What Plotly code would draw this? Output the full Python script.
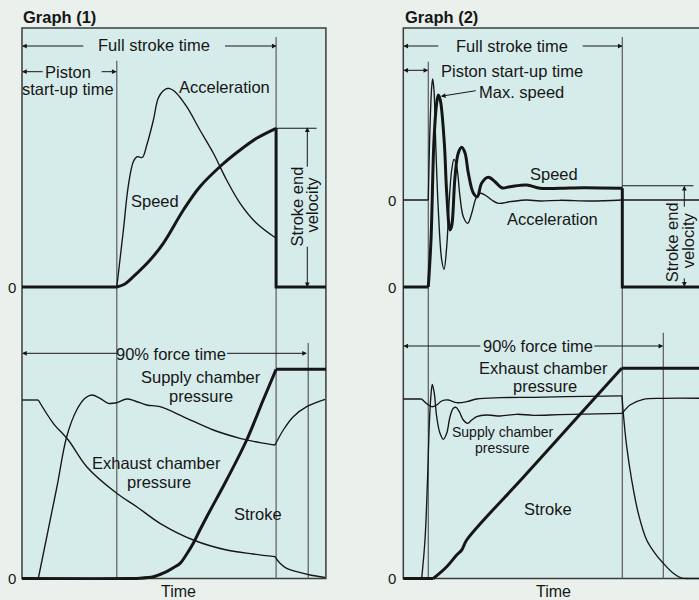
import plotly.graph_objects as go

W, H = 699, 600

# ======================= DATA =======================
# Time in arbitrary units, signals in arbitrary (normalised) units.

# ---------- Graph (1) ----------
g1_startup_end = 31.6
g1_stroke_end = 84.7
g1_force90_end = 95.4
g1_time_end = 101.3

g1_speed_t = [0, 31.6, 34.3, 37.1, 42.7, 47.1, 53.8, 59.3, 66.6, 72.7, 78.2, 84.7, 84.7, 101.3]
g1_speed_v = [0, 0, 1.5, 5.15, 13.5, 21.85, 38.5, 50.15, 61.0, 68.5, 74.35, 79.35, 0, 0]
g1_speed_corners = [1, 11, 12]

g1_accel_t = [31.6, 33.8, 35.4, 37.1, 38.4, 39.3, 40.2, 41.6, 43.8, 45.4, 47.1, 48.8, 51.0,
              54.9, 59.3, 63.8, 68.2, 72.7, 78.2, 84.7]
g1_accel_v = [0, 28.5, 50.15, 62.65, 65.15, 64.85, 64.85, 71.0, 83.5, 94.35, 98.15, 99.35, 97.65,
              90.15, 78.5, 66.85, 53.5, 41.85, 31.85, 24.35]
g1_accel_corners = []

g1_stroke_t = [0, 36, 39.3, 43.8, 46, 48.2, 50.3, 52.7, 54.7, 57.1, 59.3, 61.6, 68.2, 74.9, 80.4,
               84.7, 101.3]
g1_stroke_v = [0, 0, 0.15, 0.9, 2, 3.4, 5.25, 7.6, 11.75, 17.6, 24.25, 30.9, 49.25, 69.25, 89.25,
               104.6, 104.6]
g1_stroke_corners = [15]

g1_supply_t = [5.43, 11.57, 14.9, 18.23, 21.0, 23.23, 26.0, 28.77, 31.57, 34.9, 37.67, 41.57, 46.0,
               54.9, 63.77, 72.67, 79.33, 84.33, 87.1, 90.43, 94.9, 101.0]
g1_supply_v = [0, 45.25, 70.9, 84.25, 90.1, 91.75, 90.1, 87.6, 87.9, 89.75, 88.75, 86.75, 85.9,
               80.1, 74.25, 70.1, 67.9, 66.75, 74.25, 80.9, 85.9, 89.6]
g1_supply_corners = [17]

g1_exhaust_t = [0, 5.43, 10.43, 15.43, 21.57, 31.57, 38.23, 46.0, 57.1, 68.23, 77.1, 84.33, 86.0,
                88.23, 91.57, 96.0, 101.0]
g1_exhaust_v = [89.25, 89.25, 77.6, 69.25, 55.9, 42.6, 35.9, 27.6, 19.25, 14.25, 12.25, 10.9, 7.6,
                5.1, 3.4, 1.75, 0.6]
g1_exhaust_corners = [1, 11]

# ---------- Graph (2) ----------
g2_startup_end = 8.33
g2_stroke_end = 73.0
g2_force90_end = 86.67

g2_speed_t = [0, 8.33, 9.23, 10.23, 11.13, 11.67, 12.33, 13.67, 14.47, 15.57, 16.13, 17.23, 18.33,
              19.47, 20.57, 21.67, 23.33, 24.67, 26.13, 28.33, 30.57, 32.8, 35.57, 41.13, 45.57,
              52.23, 60.0, 73.0, 73.0, 100]
g2_speed_v = [0, 0, 23.5, 73.5, 92.0, 96.0, 93.5, 72.0, 47.0, 28.5, 30.5, 55.0, 67.0,
              69.85, 67.0, 57.0, 47.0, 45.15, 52.0, 54.85, 52.65, 49.65, 50.15, 51.0, 49.35,
              49.35, 49.6, 49.35, 0, 0]
g2_speed_corners = [1, 27, 28]

g2_accel_t = [0, 8.33, 8.9, 9.47, 9.8, 10.23, 10.8, 11.67, 12.8, 13.57, 14.47, 15.33, 16.13, 16.9,
              17.8, 18.9, 20.0, 21.47, 22.8, 24.23, 25.57, 27.23, 29.47, 31.67, 35.57, 41.13,
              45.57, 52.23, 62.23, 73.0, 100]
g2_accel_v = [0, 0, 36.65, 56.65, 60.5, 55.0, 28.35, -5.0, -30.0, -34.65, -23.35, 0, 15.0, 20.35,
              16.65, 1.65, -8.35, -11.65, -6.65, 0.85, 3.35, 2.5, 0, -1.65, -0.85, 0,
              -0.5, -0.15, -0.5, 0, 0]
g2_accel_corners = [1, 29]

g2_stroke_t = [0, 10.0, 14.47, 17.8, 19.47, 21.13, 40.0, 56.0, 72.8, 100]
g2_stroke_v = [0, 0, 5.9, 11.75, 14.25, 19.25, 50.6, 77.2, 105.1, 105.1]
g2_stroke_corners = [1, 8]

g2_exhaust_t = [0, 6.13, 9.47, 11.13, 12.8, 15.0, 17.8, 21.13, 24.47, 32.23, 43.33, 54.47, 72.9,
                73.33, 74.47, 76.13, 78.33, 81.13, 83.9, 86.67, 90.0, 92.6, 95.0, 100]
g2_exhaust_v = [89.75, 89.75, 85.9, 86.75, 88.75, 89.25, 87.9, 88.4, 89.75, 90.4, 90.6, 90.9, 91.3,
                82.6, 65.9, 49.25, 32.6, 19.25, 12.6, 7.6, 2.6, 0.3, 0, 0]
g2_exhaust_corners = [1, 12, 22]

g2_supply_t = [0, 6.13, 7.23, 8.07, 8.73, 9.23, 9.67, 10.33, 11.13, 12.23, 13.33, 14.47, 15.57,
               16.67, 17.57, 18.67, 20.0, 21.47, 22.8, 24.47, 27.8, 32.23, 37.8, 43.33, 52.23,
               73.0, 75.57, 80.0, 86.67, 100]
g2_supply_v = [0, 0, 19.25, 49.25, 79.25, 91.75, 97.1, 92.6, 80.9, 72.6, 69.6, 72.6, 80.9,
               85.1, 85.6, 83.4, 79.25, 77.6, 79.25, 80.9, 81.75, 81.25, 82.1, 81.6, 81.9,
               82.6, 86.75, 89.6, 90.1, 90.1]
g2_supply_corners = [1, 25]

# ======================= STYLE / LAYOUT =======================
FONT = 'Liberation Sans, Arial, Helvetica, sans-serif'
INK = '#161616'
GREY = '#5a5a5a'
FRAME = '#3c3c3c'
PAGE_BG = '#eaf1ec'
PANEL_BG = '#d6ecea'
THICK = 3.0
THIN = 1.35

fig = go.Figure()


def add_curve(t, v, corners, xa, ya, width):
    idx = [0] + list(corners) + [len(t) - 1]
    groups = []
    for a, b in zip(idx[:-1], idx[1:]):
        lin = (b - a) == 1
        if groups and lin and groups[-1][2]:
            groups[-1][1] = b
        else:
            groups.append([a, b, lin])
    for a, b, lin in groups:
        fig.add_trace(go.Scatter(
            x=t[a:b + 1], y=v[a:b + 1], xaxis=xa, yaxis=ya, mode='lines',
            line=dict(color=INK, width=width, shape='linear' if lin else 'spline',
                      smoothing=1.0, simplify=False),
            hoverinfo='skip', showlegend=False))


# Graph (1)
add_curve(g1_accel_t, g1_accel_v, g1_accel_corners, 'x', 'y2', THIN)
add_curve(g1_speed_t, g1_speed_v, g1_speed_corners, 'x', 'y2', THICK)
add_curve(g1_supply_t, g1_supply_v, g1_supply_corners, 'x', 'y', THIN)
add_curve(g1_exhaust_t, g1_exhaust_v, g1_exhaust_corners, 'x', 'y', THIN)
add_curve(g1_stroke_t, g1_stroke_v, g1_stroke_corners, 'x', 'y', THICK)
# Graph (2)
add_curve(g2_accel_t, g2_accel_v, g2_accel_corners, 'x2', 'y3', THIN)
add_curve(g2_speed_t, g2_speed_v, g2_speed_corners, 'x2', 'y2', THICK)
add_curve(g2_supply_t, g2_supply_v, g2_supply_corners, 'x2', 'y', THIN)
add_curve(g2_exhaust_t, g2_exhaust_v, g2_exhaust_corners, 'x2', 'y', THIN)
add_curve(g2_stroke_t, g2_stroke_v, g2_stroke_corners, 'x2', 'y', THICK)


def PX(px):
    return px / W


def PY(py):
    return 1 - py / H


BOTTOM = PY(578.5)
shapes = [
    # panels
    dict(type='rect', xref='x', yref='paper', x0=0, x1=g1_time_end, y0=BOTTOM, y1=PY(28),
         fillcolor=PANEL_BG, line=dict(color=FRAME, width=1.5), layer='below'),
    dict(type='rect', xref='x2', yref='paper', x0=0, x1=120, y0=BOTTOM, y1=PY(28),
         fillcolor=PANEL_BG, line=dict(color=FRAME, width=1.5), layer='below'),
    # event lines graph 1
    dict(type='line', xref='x', yref='paper', x0=g1_startup_end, x1=g1_startup_end,
         y0=BOTTOM, y1=PY(60.7), line=dict(color=GREY, width=1.2), layer='below'),
    dict(type='line', xref='x', yref='paper', x0=g1_stroke_end, x1=g1_stroke_end,
         y0=BOTTOM, y1=PY(37), line=dict(color=GREY, width=1.2), layer='below'),
    dict(type='line', xref='x', yref='paper', x0=g1_force90_end, x1=g1_force90_end,
         y0=BOTTOM, y1=PY(343), line=dict(color=GREY, width=1.2), layer='below'),
    # event lines graph 2
    dict(type='line', xref='x2', yref='paper', x0=g2_startup_end, x1=g2_startup_end,
         y0=BOTTOM, y1=PY(61.7), line=dict(color=GREY, width=1.2), layer='below'),
    dict(type='line', xref='x2', yref='paper', x0=g2_stroke_end, x1=g2_stroke_end,
         y0=BOTTOM, y1=PY(37), line=dict(color=GREY, width=1.2), layer='below'),
    dict(type='line', xref='x2', yref='paper', x0=g2_force90_end, x1=g2_force90_end,
         y0=BOTTOM, y1=PY(332.7), line=dict(color=GREY, width=1.2), layer='below'),
    # stroke end velocity reference lines
    dict(type='line', xref='x', yref='y2', x0=g1_stroke_end, x1=98.2,
         y0=g1_speed_v[11], y1=g1_speed_v[11], line=dict(color=INK, width=1.1)),
    dict(type='line', xref='x2', yref='y2', x0=g2_stroke_end, x1=96.7,
         y0=50.65, y1=50.65, line=dict(color=INK, width=1.1)),
]

ann = []


def label(text, px, py, size=16.5, xanchor='center', angle=0, family=FONT):
    ann.append(dict(text=text, x=PX(px), y=PY(py), xref='paper', yref='paper',
                    xanchor=xanchor, yanchor='middle', showarrow=False, textangle=angle,
                    font=dict(family=family, size=size, color=INK), borderpad=0))


def zero_label(px, yref):
    ann.append(dict(text='0', x=PX(px), y=0, xref='paper', yref=yref, xanchor='center',
                    yanchor='middle', showarrow=False,
                    font=dict(family=FONT, size=15, color=INK), borderpad=0))


def arrow(px, py, dx, dy, both=False):
    ann.append(dict(text='', x=PX(px), y=PY(py), xref='paper', yref='paper', ax=dx, ay=dy,
                    axref='pixel', ayref='pixel', showarrow=True, arrowhead=2,
                    arrowsize=0.95, arrowwidth=1, arrowcolor=INK, standoff=0,
                    startstandoff=0, borderpad=0, borderwidth=0,
                    arrowside='end+start' if both else 'end',
                    startarrowhead=2, startarrowsize=0.95))


# Graph (1) texts
label('<b>Graph (1)</b>', 22, 16.7, size=16.5, xanchor='left')
label('Full stroke time', 153.7, 45.1)
label('Piston', 68.3, 71.7)
label('start-up time', 68.3, 88.7)
label('Acceleration', 224.5, 87.1)
label('Speed', 154.5, 201.1)
label('Stroke end', 296.7, 206.7, angle=-90)
label('velocity', 311.0, 204.5, angle=-90)
label('90% force time', 171.2, 354.4)
label('Supply chamber', 200.8, 377.2)
label('pressure', 200.8, 395.9)
label('Exhaust chamber', 156.2, 463.1)
label('pressure', 159.2, 481.7)
label('Stroke', 257.5, 514.4)
label('Time', 178.0, 591.0, size=16)
zero_label(11.7, 'y2')
zero_label(11.7, 'y')

arrow(22, 46, 61.3, 0)
arrow(276.7, 46, -51.7, 0)
arrow(22, 71.7, 20.7, 0)
arrow(116.7, 71.7, -15, 0)
arrow(22, 353.3, 94.7, 0)
arrow(307, 353.3, -80, 0)
arrow(307.3, 127.3, 0, 39.4)
arrow(307.3, 287.3, 0, -40.6)

# Graph (2) texts
label('<b>Graph (2)</b>', 404.3, 16.7, size=16.5, xanchor='left')
label('Full stroke time', 511.7, 46.1)
label('Piston start-up time', 511.5, 71.1)
label('Max. speed', 477.5, 92.1, xanchor='left')
label('Speed', 553.8, 174.4)
label('Acceleration', 552.8, 219.4)
label('Stroke end', 671.7, 242.5, angle=-90)
label('velocity', 688.3, 240.0, angle=-90)
label('90% force time', 537.5, 346.1)
label('Exhaust chamber', 543.3, 367.6)
label('pressure', 545.0, 386.2)
label('Supply chamber', 502.8, 431.7, size=14)
label('pressure', 502.5, 447.7, size=14)
label('Stroke', 547.5, 509.4)
label('Time', 553.3, 591.0, size=16)
zero_label(392.2, 'y3')
zero_label(392.2, 'y2')
zero_label(392.2, 'y')

arrow(403.3, 46, 35, 0)
arrow(622.7, 46, -40, 0)
arrow(428.3, 70.3, -25, 0, both=True)
arrow(440.8, 96.3, 35, -5.6)
arrow(403.3, 346, 77, 0)
arrow(663.3, 346, -69, 0)
arrow(684.3, 185.7, 0, 21)
arrow(684.3, 286.7, 0, -8.4)

fig.update_layout(
    width=W, height=H, autosize=False,
    margin=dict(l=0, r=0, t=0, b=0, pad=0),
    paper_bgcolor=PAGE_BG, plot_bgcolor='rgba(0,0,0,0)',
    showlegend=False,
    xaxis=dict(domain=[0, 0.5], range=[-22 / 3, (349.5 - 22) / 3], visible=False,
               fixedrange=True, anchor='y'),
    xaxis2=dict(domain=[0.5, 1], range=[(349.5 - 403.3) / 3, (699 - 403.3) / 3], visible=False,
                fixedrange=True, anchor='y'),
    yaxis=dict(domain=[0, 1], range=[-(600 - 578.5) / 2, 578.5 / 2], visible=False,
               fixedrange=True, anchor='x'),
    yaxis2=dict(domain=[0, 1], range=[(287 - 600) / 2, 287 / 2], visible=False,
                fixedrange=True, anchor='x', overlaying='y'),
    yaxis3=dict(domain=[0, 1], range=[(200 - 600) / 2, 200 / 2], visible=False,
                fixedrange=True, anchor='x', overlaying='y'),
    shapes=shapes,
    annotations=ann,
)

fig.write_html('out.html', config={'displayModeBar': False},
               post_script="document.body.style.margin='0';document.body.style.padding='0';"
                           "document.body.style.overflow='hidden';")
